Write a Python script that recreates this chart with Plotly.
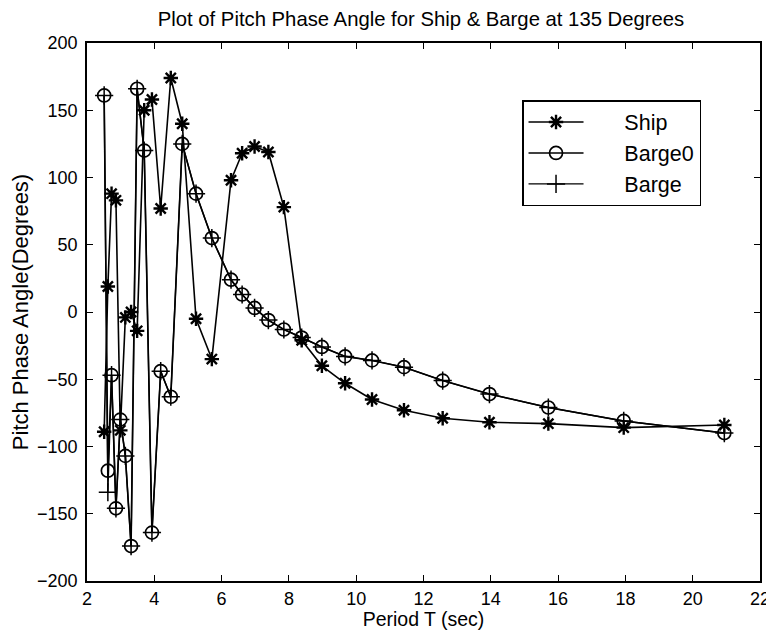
import plotly.graph_objects as go

# Period T (sec)
period = [2.51, 2.62, 2.73, 2.86, 2.99, 3.14, 3.31, 3.49, 3.70, 3.93,
          4.19, 4.49, 4.83, 5.24, 5.71, 6.28, 6.61, 6.98, 7.39, 7.85,
          8.38, 8.98, 9.67, 10.47, 11.42, 12.57, 13.96, 15.71, 17.95, 20.94]

ship = [-89, 19, 88, 83, -88, -4, 0, -14, 150, 158,
        77, 174, 140, -5, -35, 98, 118, 123, 119, 78,
        -21, -40, -53, -65, -73, -79, -82, -83, -86, -84]

barge0 = [161, -118, -47, -146, -80, -107, -174, 166, 120, -164,
          -44, -63, 125, 88, 55, 24, 13, 3, -6, -13,
          -19, -26, -33, -36, -41, -51, -61, -71, -81, -90]

barge = [161, -134, -47, -146, -80, -107, -174, 166, 120, -164,
         -44, -63, 125, 88, 55, 24, 13, 3, -6, -13,
         -19, -26, -33, -36, -41, -51, -61, -71, -81, -90]

x_ticks = [2, 4, 6, 8, 10, 12, 14, 16, 18, 20, 22]
y_ticks = [-200, -150, -100, -50, 0, 50, 100, 150, 200]

FONT = "Liberation Sans, Arial, Helvetica, sans-serif"
NB = "\u00a0"

# The page body has an 8px margin, so the figure is sized/placed to compensate.
W, H = 766, 629

fig = go.Figure()
fig.add_trace(go.Scatter(
    x=period, y=ship, mode="lines+markers", name=NB * 6 + "Ship",
    line=dict(color="black", width=1.6),
    marker=dict(symbol="asterisk-open", size=12, color="black",
                line=dict(color="black", width=2.4)),
))
fig.add_trace(go.Scatter(
    x=period, y=barge0, mode="lines+markers", name=NB * 6 + "Barge0",
    line=dict(color="black", width=1.6),
    marker=dict(symbol="circle-open", size=13, color="black",
                line=dict(color="black", width=1.7)),
))
fig.add_trace(go.Scatter(
    x=period, y=barge, mode="lines+markers", name=NB * 6 + "Barge",
    line=dict(color="black", width=1.4),
    marker=dict(symbol="cross-thin-open", size=13, color="black",
                line=dict(color="black", width=1.5)),
))

axis_common = dict(
    showgrid=False, zeroline=False, showline=True, linecolor="black",
    linewidth=1.8, mirror="ticks", ticks="inside", ticklen=6,
    tickwidth=1.3, tickcolor="black",
    tickfont=dict(family=FONT, size=18, color="black"),
)

fig.update_layout(
    width=W, height=H,
    margin=dict(l=79, r=14, t=35, b=56),
    paper_bgcolor="white", plot_bgcolor="white",
    title=dict(text="Plot of Pitch Phase Angle for Ship & Barge at 135 Degrees",
               font=dict(family=FONT, size=20.3, color="black"),
               x=413 / W, xanchor="center", y=1 - 11 / H, yanchor="middle"),
    xaxis=dict(range=[2, 22], tickvals=x_ticks,
               title=dict(text="Period T (sec)", font=dict(family=FONT, size=19.5, color="black"),
                          standoff=0),
               **axis_common),
    yaxis=dict(range=[-200, 200], tickvals=y_ticks,
               title=dict(text="Pitch Phase Angle(Degrees)", font=dict(family=FONT, size=22, color="black"),
                          standoff=7),
               ticklabelstandoff=4,
               **axis_common),
    legend=dict(x=0.6464, y=0.894, xanchor="left", yanchor="top",
                bordercolor="black", borderwidth=1.5, bgcolor="white",
                font=dict(family=FONT, size=21.5, color="black"),
                itemwidth=55, tracegroupgap=0),
    showlegend=True,
)
fig.update_xaxes(automargin=False)
fig.update_yaxes(automargin=False)

fig.write_html("out.html")
